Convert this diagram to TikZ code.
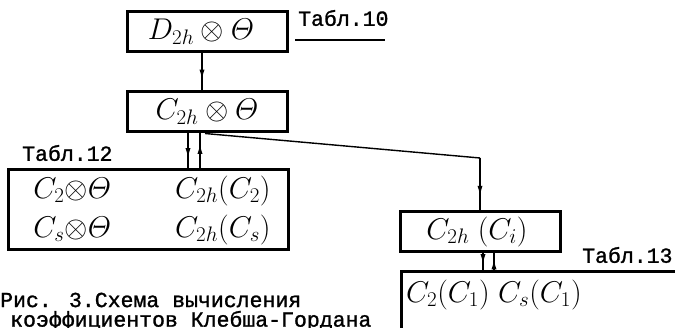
\RequirePackage{fix-cm}
\documentclass[tikz,border=0pt]{standalone}
\usepackage{amsmath}
\usepackage{fontspec}
\newfontfamily\typew[FakeBold=1.2]{Liberation Mono}
\usetikzlibrary{arrows.meta,decorations.markings}

\tikzset{
  boxed/.style={draw, line width=3pt, minimum width=160pt, minimum height=40pt,
                inner sep=0pt, font=\fontsize{30}{39}\selectfont},
  mathtxt/.style={inner sep=0pt, font=\fontsize{30}{39}\selectfont},
  link/.style={line width=2pt},
  flowmark/.style={link, postaction={decorate},
    decoration={markings, mark=at position 0.76 with {\arrow{Latex[length=12pt,width=5pt]}}}},
  tabl/.style={font=\typew\fontsize{21.5}{24}\selectfont, inner sep=0pt},
}

\begin{document}
\begin{tikzpicture}[x=1pt,y=-1pt]
  \clip (0,0) rectangle (675,328);
  \fill[white] (0,0) rectangle (675,328);

  % boxes
  \node[boxed] (b1) at (207,32)  {$D_{2h}\otimes\varTheta$\hspace*{12pt}};
  \node[boxed] (b2) at (207,112) {$C_{2h}\otimes\varTheta$};
  \node[boxed, minimum width=280pt, minimum height=80pt] (b3) at (148,210)
    {\hspace*{8pt}\begin{tabular}{@{}l@{\hspace{64pt}}r@{}}
       $C_2{\otimes}\varTheta$ & $C_{2h}(C_2)$\\
       $C_s{\otimes}\varTheta$ & $C_{2h}(C_s)$
     \end{tabular}};
  \node[boxed] (b4) at (480,232) {$C_{2h}\;(C_i)$\hspace*{6pt}};
  \node[boxed, anchor=north west, minimum width=300pt, minimum height=80pt] (b5) at (400,270) {};
  \node[mathtxt, anchor=west] (b5t) at ([xshift=6pt,yshift=-25pt]b5.north west)
    {$C_2(C_1)\;C_s(C_1)$};

  % table references
  \node[tabl, anchor=west] (t10) at (298,18) {Табл.10};
  \coordinate (u1) at (295,40);
  \coordinate (u2) at (385,40);
  \draw[line width=1.2pt] (u1) -- (u2);
  \node[tabl, anchor=west] (t12) at (22,153) {Табл.12};
  \node[tabl, anchor=west] (t13) at (582,255) {Табл.13};

  % connectors
  \draw[flowmark] ([xshift=-5pt]b1.south) -- ([xshift=-5pt]b2.north);
  \draw[flowmark] ([xshift=-19pt]b2.south) -- ([xshift=-19pt]b2.south |- b3.north);
  \draw[flowmark] ([xshift=-7pt]b2.south |- b3.north) -- ([xshift=-7pt]b2.south);
  \coordinate (k) at (480,158);
  \draw[line width=1.4pt] ([xshift=-2pt]b2.south) -- (k);
  \draw[flowmark] (k) -- (b4.north);
  \draw[flowmark] ([xshift=3pt]b4.south) -- ([xshift=3pt]b4.south |- b5.north);
  \draw[flowmark] ([xshift=14pt]b4.south |- b5.north) -- ([xshift=14pt]b4.south);

  % caption
  \node[tabl, anchor=west] (cap1) at (0,300) {Рис. 3.Схема вычисления};
  \node[tabl, anchor=west] (cap2) at (10,321) {коэффициентов Клебша-Гордана};
\end{tikzpicture}
\end{document}
